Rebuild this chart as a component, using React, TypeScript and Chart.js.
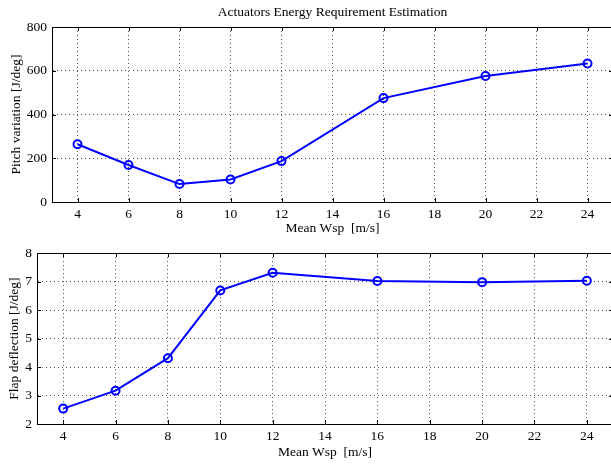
import React, { useEffect, useRef } from "react";
import { Chart, registerables } from "chart.js";

Chart.register(...registerables);

// ---- data ----
const windSpeeds = [4, 6, 8, 10, 12, 16, 20, 24];
const pitchVariation = [264, 169, 82, 103, 187, 475, 576, 633];
const flapDeflection = [2.54, 3.17, 4.31, 6.69, 7.31, 7.02, 6.98, 7.03];
const xTickValues = [4, 6, 8, 10, 12, 14, 16, 18, 20, 22, 24];
const pitchTickValues = [0, 200, 400, 600, 800];
const flapTickValues = [2, 3, 4, 5, 6, 7, 8];
const chartTitle = "Actuators Energy Requirement Estimation";
const xAxisTitle = "Mean Wsp  [m/s]";
const pitchAxisTitle = "Pitch variation [J/deg]";
const flapAxisTitle = "Flap deflection [J/deg]";

const FONT = "'Liberation Serif', 'Times New Roman', serif";
const BLUE = "#0000ff";

const frameTicks = {
  id: "frameTicks",
  afterDraw(chart: any) {
    const { ctx, chartArea: a, scales } = chart;
    const xs = scales.x;
    const ys = scales.y;
    ctx.save();
    ctx.strokeStyle = "#000";
    ctx.lineWidth = 1;
    ctx.beginPath();
    ctx.moveTo(a.left, Math.round(a.top) + 0.5);
    ctx.lineTo(a.right, Math.round(a.top) + 0.5);
    ctx.moveTo(Math.round(a.right) - 0.5, a.top);
    ctx.lineTo(Math.round(a.right) - 0.5, a.bottom);
    xs.ticks.forEach((t: any) => {
      const px = Math.round(xs.getPixelForValue(t.value)) + 0.5;
      ctx.moveTo(px, a.bottom);
      ctx.lineTo(px, a.bottom - 4);
      ctx.moveTo(px, a.top);
      ctx.lineTo(px, a.top + 4);
    });
    ys.ticks.forEach((t: any) => {
      const py = Math.round(ys.getPixelForValue(t.value)) + 0.5;
      ctx.moveTo(a.left, py);
      ctx.lineTo(a.left + 4, py);
      ctx.moveTo(a.right, py);
      ctx.lineTo(a.right - 4, py);
    });
    ctx.stroke();
    ctx.restore();
  },
};

type PanelProps = {
  values: number[];
  yTicks: number[];
  yTitle: string;
  title?: string;
  width: number;
  height: number;
  top: number;
  axisWidth: number;
  xAxisHeight: number;
  padTop: number;
  yTitlePad: number;
  xTitlePad: number;
};

function Panel(p: PanelProps) {
  const ref = useRef<HTMLCanvasElement | null>(null);
  useEffect(() => {
    if (!ref.current) return;
    const chart = new Chart(ref.current, {
      type: "line",
      data: {
        datasets: [
          {
            data: windSpeeds.map((x, i) => ({ x, y: p.values[i] })),
            borderColor: BLUE,
            borderWidth: 2,
            pointRadius: 4,
            pointBorderWidth: 2,
            pointBorderColor: BLUE,
            pointBackgroundColor: "rgba(0,0,0,0)",
            tension: 0,
            fill: false,
          },
        ],
      },
      options: {
        responsive: false,
        animation: false,
        events: [],
        layout: { padding: { left: 0, right: 12, top: p.title ? 0 : p.padTop, bottom: 0 } },
        plugins: {
          legend: { display: false },
          tooltip: { enabled: false },
          title: p.title
            ? {
                display: true,
                text: p.title,
                fullSize: false,
                color: "#000",
                font: { family: FONT, size: 13.5, weight: "normal" },
                padding: { top: 4, bottom: p.padTop - 4 - 16.2 },
              }
            : { display: false },
        },
        scales: {
          x: {
            type: "linear",
            min: 3,
            max: 25,
            afterBuildTicks: (s: any) => {
              s.ticks = xTickValues.map((v) => ({ value: v }));
            },
            afterFit: (s: any) => {
              s.height = p.xAxisHeight;
            },
            ticks: {
              color: "#000",
              font: { family: FONT, size: 13.5 },
              padding: 4,
              maxRotation: 0,
              autoSkip: false,
            },
            grid: { color: "#555", lineWidth: 1, drawTicks: false },
            border: { display: true, color: "#000", width: 1, dash: [1, 3] },
            title: {
              display: true,
              text: xAxisTitle,
              color: "#000",
              font: { family: FONT, size: 13.5 },
              padding: { top: 0, bottom: p.xTitlePad },
            },
          },
          y: {
            type: "linear",
            min: p.yTicks[0],
            max: p.yTicks[p.yTicks.length - 1],
            afterBuildTicks: (s: any) => {
              s.ticks = p.yTicks.map((v) => ({ value: v }));
            },
            afterFit: (s: any) => {
              s.width = p.axisWidth;
            },
            ticks: {
              color: "#000",
              font: { family: FONT, size: 13.5 },
              padding: 5,
              autoSkip: false,
            },
            grid: { color: "#555", lineWidth: 1, drawTicks: false },
            border: { display: true, color: "#000", width: 1, dash: [1, 3] },
            title: {
              display: true,
              text: p.yTitle,
              color: "#000",
              font: { family: FONT, size: 13.5 },
              padding: { top: p.yTitlePad, bottom: 0 },
            },
          },
        },
      },
      plugins: [frameTicks],
    } as any);
    return () => chart.destroy();
  }, []);
  return (
    <canvas
      ref={ref}
      width={p.width}
      height={p.height}
      style={{ position: "absolute", left: 0, top: p.top, width: p.width, height: p.height }}
    />
  );
}

export default function App() {
  return (
    <div
      style={{
        position: "fixed",
        left: 0,
        top: 0,
        width: 611,
        height: 466,
        overflow: "hidden",
        background: "#fff",
      }}
    >
      <Panel
        values={pitchVariation}
        yTicks={pitchTickValues}
        yTitle={pitchAxisTitle}
        title={chartTitle}
        width={625}
        height={240}
        top={0}
        axisWidth={52}
        xAxisHeight={38}
        padTop={27}
        yTitlePad={8}
        xTitlePad={3}
      />
      <Panel
        values={flapDeflection}
        yTicks={flapTickValues}
        yTitle={flapAxisTitle}
        width={625}
        height={226}
        top={240}
        axisWidth={37}
        xAxisHeight={42}
        padTop={10}
        yTitlePad={6}
        xTitlePad={5}
      />
    </div>
  );
}
